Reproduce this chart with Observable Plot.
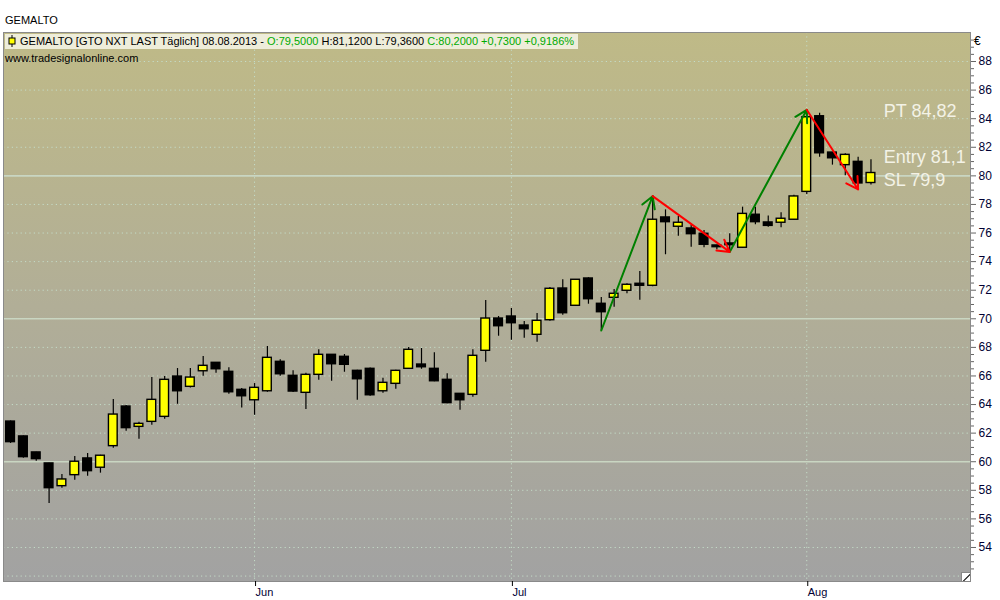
<!DOCTYPE html>
<html>
<head>
<meta charset="utf-8">
<script src="https://cdn.jsdelivr.net/npm/d3@7"></script>
<script src="https://cdn.jsdelivr.net/npm/@observablehq/plot@0.6"></script>
<style>
  body { margin: 0; background: #ffffff; font-family: "Liberation Sans", Arial, sans-serif; }
  #wrap { position: relative; width: 1000px; height: 600px; overflow: hidden; }
  #title { height: 26px; font-size: 11px; line-height: 11px; padding: 15px 0 0 5px; box-sizing: border-box; color: #000; }
  #hdr { position: absolute; left: 5px; top: 34px; height: 15px; background: #eeedda; font-size: 11px; line-height: 15px; padding: 0 4px 0 3px; white-space: nowrap; color: #000; }
  #hdr .g { color: #00aa00; }
  #hdr svg { vertical-align: -2px; margin-right: 4px; }
  #www { position: absolute; left: 5px; top: 52px; font-size: 11px; color: #000; }
  #euro { position: absolute; left: 974px; top: 34px; font-size: 12px; color: #000; }
  #corner { position: absolute; left: 961px; top: 572px; width: 8px; height: 8px; background: #fff; border: 1px solid #888; overflow: hidden; }
  #corner div { position: absolute; left: -2px; top: 4px; width: 14px; height: 1px; background: #000; transform: rotate(-45deg); }
</style>
</head>
<body>
<div id="wrap">
  <div id="title">GEMALTO</div>
  <div id="chart"></div>
  <div id="hdr"><svg width="8" height="12"><line x1="4" y1="0" x2="4" y2="12" stroke="#000"/><rect x="1" y="3" width="6" height="6" fill="#ffff00" stroke="#000"/></svg>GEMALTO [GTO NXT LAST Täglich] 08.08.2013 - <span class="g">O:79,5000</span> H:81,1200 L:79,3600 <span class="g">C:80,2000 +0,7300 +0,9186%</span></div>
  <div id="www">www.tradesignalonline.com</div>
  <div id="euro">€</div>
  <div id="corner"><div></div></div>
</div>
<script>
// ---- data ----
const opens  = [62.81,61.77,60.65,59.88,58.29,59.06,60.23,59.58,61.09,63.86,62.44,62.79,63.14,65.96,65.24,66.33,66.92,66.29,65.03,64.30,64.93,66.99,66.01,64.82,66.08,67.48,67.34,66.36,66.50,64.93,65.45,66.50,66.80,66.50,65.73,64.75,64.68,67.76,70.02,70.16,69.53,68.88,69.90,72.12,70.91,72.82,71.05,71.47,71.96,72.45,72.31,77.09,76.44,76.32,75.95,75.13,75.27,74.97,77.28,76.74,76.72,76.93,78.88,84.17,81.63,80.75,80.98,79.50];
const highs  = [62.85,61.80,60.66,59.90,59.11,60.37,60.58,60.45,64.35,63.93,62.77,65.89,65.96,66.52,66.52,67.36,66.95,66.57,65.12,65.47,68.06,67.13,66.36,66.19,67.83,67.50,67.50,66.40,66.55,65.84,66.40,67.99,67.92,67.62,66.15,64.78,67.83,71.28,70.16,70.72,69.81,70.37,72.19,72.74,72.75,72.87,71.49,72.05,72.45,73.31,78.60,77.62,77.16,76.55,76.18,75.15,75.95,77.81,77.81,77.20,77.42,78.65,84.60,84.38,81.65,81.54,81.30,81.12];
const lows   = [61.28,60.25,60.04,57.08,58.15,58.71,58.99,59.20,60.95,62.14,61.58,62.56,62.98,64.02,65.15,65.98,66.19,64.72,63.75,63.25,64.86,65.98,64.84,63.65,65.70,65.63,66.26,64.30,64.58,64.79,65.07,66.45,66.47,65.60,64.05,63.60,64.51,66.96,68.78,68.50,68.64,68.36,69.83,70.25,70.90,71.02,69.16,70.81,71.75,71.30,72.25,74.48,75.78,75.01,74.97,74.83,74.70,74.95,76.58,76.41,76.37,76.90,78.70,81.30,80.75,80.00,79.05,79.36];
const closes = [61.37,60.32,60.18,58.15,58.76,60.00,59.34,60.42,63.30,62.35,62.65,64.33,65.73,64.93,65.89,66.71,66.47,64.86,64.58,65.17,67.27,66.12,64.91,66.08,67.48,66.82,66.78,65.77,64.65,65.52,66.36,67.83,66.61,65.63,64.10,64.30,67.41,70.02,69.48,69.69,69.27,69.86,72.10,70.39,72.73,71.37,70.46,71.75,72.38,72.31,76.93,76.76,76.72,75.92,75.18,75.01,75.15,77.34,76.76,76.50,77.00,78.56,84.10,81.58,81.23,81.47,79.47,80.20];

const monthLabels = ["Jun", "Jul", "Aug"];
const monthIndex  = [19, 39, 62];

const yMajorTicks = [54,56,58,60,62,64,66,68,70,72,74,76,78,80,82,84,86,88];
const solidLevels = [60, 70, 80];
const dottedLevels = [52,54,56,58,62,64,66,68,72,74,76,78,82,84,86,88];

const arrowIdx = [46, 50, 56, 62, 66];
const arrowVal = [69.18, 78.58, 74.68, 84.62, 79.05];

const labelTexts = ["PT 84,82", "Entry 81,1", "SL 79,9"];
const labelIdx   = [68, 68, 68];
const labelY     = [84.5, 81.28, 79.67];

// ---- build tables ----
const candles = opens.map((o, i) => ({i, o, h: highs[i], l: lows[i], c: closes[i]}));
const segs = arrowIdx.slice(1).map((x2, k) => ({
  x1: arrowIdx[k], y1: arrowVal[k], x2, y2: arrowVal[k + 1], up: arrowVal[k + 1] > arrowVal[k]
}));
const labels = labelTexts.map((t, k) => ({t, x: labelIdx[k], y: labelY[k]}));
const minorTicks = d3.range(52.5, 90, 0.5).filter(v => !yMajorTicks.includes(v));
const half = 0.34;

const background = (index, scales, values, dims) => {
  const g = d3.create("svg:g");
  const lg = g.append("defs").append("linearGradient")
    .attr("id", "bgGrad").attr("x1", 0).attr("y1", 0).attr("x2", 0).attr("y2", 1);
  lg.append("stop").attr("offset", "0%").attr("stop-color", "#bfba87");
  lg.append("stop").attr("offset", "50%").attr("stop-color", "#b1ae97");
  lg.append("stop").attr("offset", "100%").attr("stop-color", "#a2a2a2");
  g.append("rect")
    .attr("x", dims.marginLeft).attr("y", dims.marginTop)
    .attr("width", dims.width - dims.marginLeft - dims.marginRight)
    .attr("height", dims.height - dims.marginTop - dims.marginBottom)
    .attr("fill", "url(#bgGrad)");
  return g.node();
};

const chart = Plot.plot({
  width: 1000,
  height: 574,
  marginTop: 6,
  marginBottom: 19,
  marginLeft: 3,
  marginRight: 30,
  style: {fontFamily: "'Liberation Sans', Arial, sans-serif", fontSize: "11px", background: "transparent", color: "#000033"},
  x: {domain: [-0.55, 74.75], axis: null},
  y: {domain: [51.62, 90.03], axis: null},
  marks: [
    background,
    Plot.ruleY(dottedLevels, {stroke: "#c4dcc8", strokeDasharray: "1.2,3.2", strokeWidth: 1}),
    Plot.ruleX(monthIndex, {stroke: "#c4dcc8", strokeDasharray: "1.2,3.2", strokeWidth: 1}),
    Plot.ruleY(solidLevels, {stroke: "#c9d6c2", strokeWidth: 1.6}),
    Plot.ruleX(candles, {x: "i", y1: "l", y2: "h", stroke: "#000", strokeWidth: 1.2}),
    Plot.rect(candles.filter(d => d.c >= d.o), {x1: d => d.i - half, x2: d => d.i + half, y1: "o", y2: "c", fill: "#ffff00", stroke: "#000", strokeWidth: 1.4}),
    Plot.rect(candles.filter(d => d.c < d.o), {x1: d => d.i - half, x2: d => d.i + half, y1: "o", y2: "c", fill: "#000", stroke: "#000", strokeWidth: 1.4}),
    Plot.arrow(segs.filter(d => d.up), {x1: "x1", y1: "y1", x2: "x2", y2: "y2", stroke: "#008000", strokeWidth: 2, headLength: 10}),
    Plot.arrow(segs.filter(d => !d.up), {x1: "x1", y1: "y1", x2: "x2", y2: "y2", stroke: "#ff0000", strokeWidth: 2, headLength: 10}),
    Plot.text(labels, {x: "x", y: "y", text: "t", textAnchor: "start", fill: "#f3f2e6", fontSize: 18, lineAnchor: "middle"}),
    Plot.frame({stroke: "#8a8a8a", strokeWidth: 1}),
    Plot.axisY({anchor: "right", ticks: yMajorTicks, tickSize: 5, tickPadding: 3, tickFormat: d => String(d), fontSize: 12, label: null, stroke: "#666"}),
    Plot.axisY({anchor: "right", ticks: minorTicks, tickSize: 3, tickFormat: () => "", label: null, stroke: "#666"}),
    Plot.axisX({ticks: monthIndex, tickSize: 5, tickPadding: 2, tickFormat: d => monthLabels[monthIndex.indexOf(d)], textAnchor: "start", dx: 1, label: null, stroke: "#000", fontSize: 11})
  ]
});
document.getElementById("chart").appendChild(chart);
</script>
</body>
</html>
